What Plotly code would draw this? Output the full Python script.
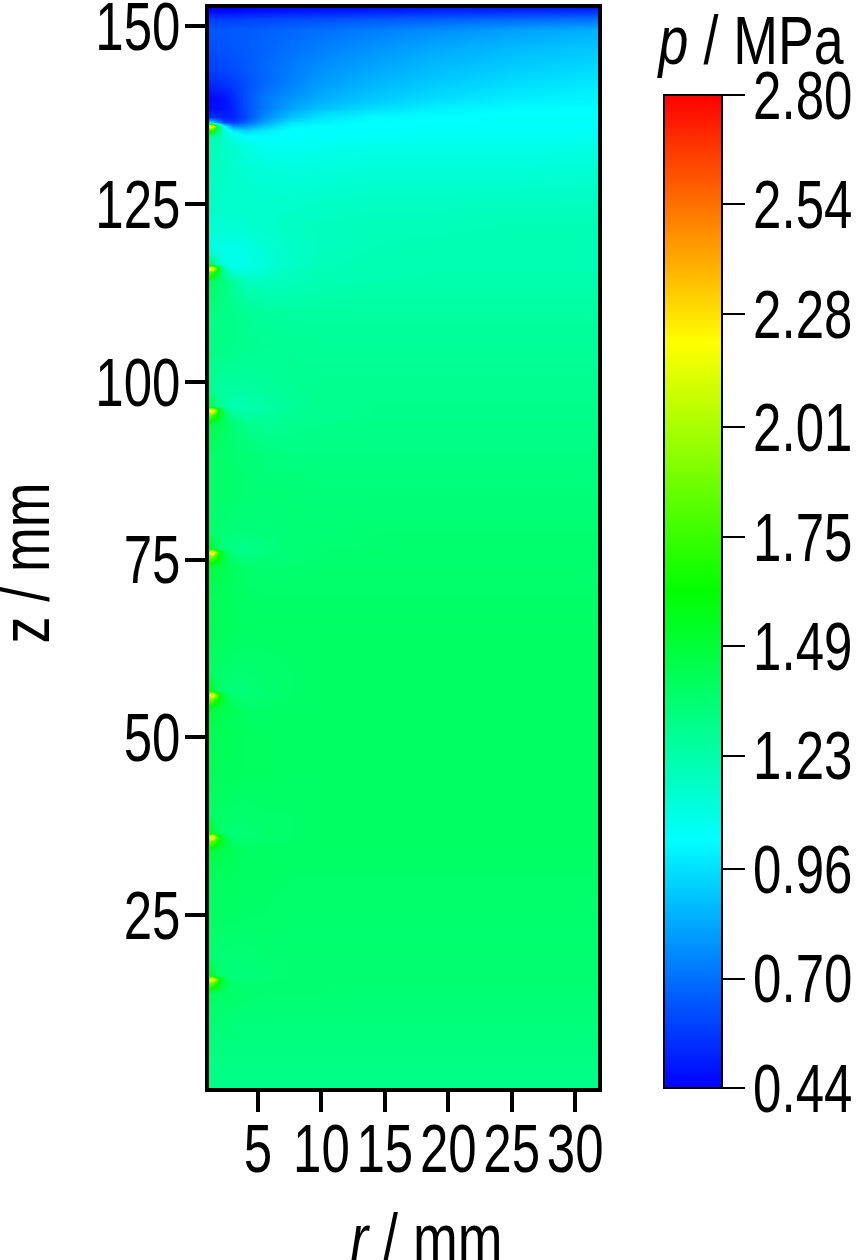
import plotly.graph_objects as go

r_mm = [1.14, 1.4, 1.8, 2.3, 3, 4, 5.5, 7.5, 10, 14, 19, 25, 31.8]
z_mm = [152.6, 152.2, 151, 149.5, 147, 144.5, 142, 140, 138.5, 137.3, 136.6, 136.0, 135.4, 134.5, 133, 130, 125, 122, 118.5,
        116.6, 116.0, 115.4, 114, 110, 105, 99, 96.6, 96.0, 95.4, 94, 90, 85, 79, 76.6, 76.0, 75.4, 74, 70,
        65, 59, 56.6, 56.0, 55.4, 54, 50, 45, 39, 36.6, 36.0, 35.4, 34, 30, 25, 19, 16.6, 16.0, 15.4, 14, 10, 5, 0.65]
p_mpa = [
    [.44, .44, .44, .44, .44, .45, .46, .47, .47, .48, .50, .50, .50],
    [.46, .46, .46, .46, .46, .47, .48, .49, .50, .51, .53, .54, .55],
    [.58, .58, .58, .58, .58, .59, .60, .61, .62, .64, .66, .68, .70],
    [.64, .64, .64, .64, .65, .65, .66, .68, .70, .73, .77, .81, .85],
    [.62, .62, .63, .63, .64, .65, .67, .70, .73, .78, .83, .87, .90],
    [.60, .60, .60, .61, .62, .64, .68, .72, .77, .82, .87, .91, .94],
    [.54, .54, .55, .56, .58, .62, .68, .74, .80, .86, .91, .95, .98],
    [.46, .46, .47, .48, .54, .62, .72, .78, .84, .90, .95, .99, 1.01],
    [.47, .47, .47, .48, .52, .62, .72, .82, .89, .95, 1.00, 1.02, 1.03],
    [.55, .55, .54, .52, .52, .60, .76, .89, .97, 1.02, 1.03, 1.04, 1.04],
    [.95, .95, .78, .60, .58, .66, .82, .96, 1.00, 1.03, 1.03, 1.04, 1.04],
    [2.20, 2.35, 1.55, 1.02, .78, .78, .90, 1.01, 1.03, 1.03, 1.04, 1.04, 1.04],
    [1.70, 1.70, 1.40, 1.12, .97, .92, .98, 1.03, 1.04, 1.04, 1.05, 1.05, 1.05],
    [1.22, 1.22, 1.20, 1.15, 1.10, 1.05, 1.03, 1.04, 1.04, 1.05, 1.06, 1.06, 1.06],
    [1.20, 1.20, 1.19, 1.17, 1.14, 1.10, 1.07, 1.06, 1.07, 1.08, 1.08, 1.08, 1.09],
    [1.18, 1.18, 1.17, 1.16, 1.15, 1.13, 1.12, 1.11, 1.11, 1.12, 1.12, 1.12, 1.13],
    [1.17, 1.17, 1.16, 1.15, 1.15, 1.15, 1.15, 1.15, 1.16, 1.17, 1.17, 1.18, 1.18],
    [1.14, 1.14, 1.13, 1.13, 1.13, 1.14, 1.15, 1.17, 1.18, 1.19, 1.19, 1.20, 1.20],
    [1.11, 1.10, 1.09, 1.08, 1.08, 1.09, 1.12, 1.16, 1.18, 1.20, 1.21, 1.21, 1.21],
    [1.40, 1.35, 1.18, 1.09, 1.07, 1.08, 1.12, 1.16, 1.19, 1.21, 1.21, 1.21, 1.21],
    [2.20, 2.35, 1.70, 1.20, 1.09, 1.09, 1.13, 1.17, 1.19, 1.21, 1.21, 1.21, 1.21],
    [1.80, 1.78, 1.52, 1.27, 1.14, 1.11, 1.14, 1.18, 1.20, 1.21, 1.22, 1.22, 1.22],
    [1.38, 1.38, 1.36, 1.33, 1.27, 1.20, 1.18, 1.19, 1.21, 1.22, 1.22, 1.22, 1.22],
    [1.32, 1.32, 1.32, 1.31, 1.30, 1.28, 1.26, 1.25, 1.25, 1.25, 1.25, 1.25, 1.25],
    [1.31, 1.31, 1.31, 1.31, 1.30, 1.29, 1.28, 1.28, 1.27, 1.27, 1.27, 1.27, 1.27],
    [1.27, 1.27, 1.26, 1.25, 1.25, 1.25, 1.26, 1.28, 1.29, 1.29, 1.29, 1.29, 1.29],
    [1.46, 1.44, 1.30, 1.24, 1.21, 1.21, 1.24, 1.27, 1.29, 1.30, 1.30, 1.30, 1.30],
    [2.15, 2.35, 1.75, 1.34, 1.24, 1.22, 1.24, 1.28, 1.29, 1.30, 1.30, 1.30, 1.30],
    [1.85, 1.82, 1.60, 1.40, 1.28, 1.24, 1.25, 1.28, 1.29, 1.30, 1.30, 1.30, 1.30],
    [1.43, 1.43, 1.42, 1.40, 1.36, 1.31, 1.28, 1.29, 1.30, 1.31, 1.31, 1.31, 1.31],
    [1.38, 1.38, 1.38, 1.37, 1.36, 1.35, 1.33, 1.32, 1.32, 1.32, 1.32, 1.32, 1.32],
    [1.38, 1.38, 1.38, 1.38, 1.37, 1.36, 1.35, 1.35, 1.34, 1.34, 1.34, 1.34, 1.34],
    [1.36, 1.36, 1.36, 1.35, 1.34, 1.34, 1.34, 1.35, 1.35, 1.36, 1.36, 1.36, 1.36],
    [1.52, 1.50, 1.38, 1.33, 1.31, 1.30, 1.32, 1.35, 1.36, 1.36, 1.37, 1.37, 1.37],
    [2.10, 2.35, 1.80, 1.41, 1.33, 1.31, 1.33, 1.35, 1.36, 1.37, 1.37, 1.37, 1.37],
    [1.88, 1.85, 1.65, 1.46, 1.36, 1.33, 1.34, 1.35, 1.36, 1.37, 1.37, 1.37, 1.37],
    [1.46, 1.46, 1.45, 1.43, 1.41, 1.37, 1.36, 1.36, 1.37, 1.37, 1.37, 1.37, 1.37],
    [1.42, 1.42, 1.42, 1.41, 1.40, 1.39, 1.38, 1.38, 1.38, 1.38, 1.38, 1.38, 1.38],
    [1.41, 1.41, 1.41, 1.41, 1.40, 1.39, 1.39, 1.39, 1.39, 1.39, 1.39, 1.39, 1.39],
    [1.39, 1.39, 1.38, 1.37, 1.36, 1.36, 1.37, 1.38, 1.39, 1.39, 1.39, 1.39, 1.39],
    [1.54, 1.52, 1.40, 1.36, 1.34, 1.34, 1.36, 1.38, 1.39, 1.39, 1.39, 1.39, 1.39],
    [2.10, 2.35, 1.80, 1.43, 1.36, 1.35, 1.36, 1.38, 1.39, 1.39, 1.39, 1.39, 1.39],
    [1.90, 1.86, 1.66, 1.47, 1.38, 1.36, 1.37, 1.38, 1.39, 1.39, 1.39, 1.39, 1.39],
    [1.47, 1.47, 1.46, 1.44, 1.42, 1.39, 1.38, 1.39, 1.39, 1.39, 1.39, 1.39, 1.39],
    [1.42, 1.42, 1.42, 1.42, 1.41, 1.40, 1.40, 1.39, 1.39, 1.39, 1.39, 1.39, 1.39],
    [1.41, 1.41, 1.41, 1.41, 1.41, 1.40, 1.40, 1.39, 1.39, 1.39, 1.39, 1.39, 1.39],
    [1.39, 1.39, 1.38, 1.38, 1.37, 1.37, 1.38, 1.38, 1.39, 1.39, 1.39, 1.39, 1.39],
    [1.54, 1.52, 1.40, 1.36, 1.35, 1.35, 1.37, 1.38, 1.39, 1.39, 1.39, 1.39, 1.39],
    [2.10, 2.35, 1.80, 1.43, 1.36, 1.36, 1.37, 1.38, 1.39, 1.39, 1.39, 1.39, 1.39],
    [1.90, 1.86, 1.66, 1.47, 1.38, 1.37, 1.38, 1.38, 1.39, 1.39, 1.39, 1.39, 1.39],
    [1.46, 1.46, 1.45, 1.44, 1.42, 1.39, 1.39, 1.39, 1.39, 1.39, 1.39, 1.39, 1.39],
    [1.40, 1.40, 1.40, 1.40, 1.40, 1.39, 1.39, 1.38, 1.38, 1.38, 1.38, 1.38, 1.38],
    [1.39, 1.39, 1.39, 1.39, 1.39, 1.38, 1.38, 1.37, 1.37, 1.37, 1.37, 1.37, 1.37],
    [1.36, 1.36, 1.36, 1.35, 1.35, 1.35, 1.36, 1.36, 1.36, 1.36, 1.36, 1.36, 1.36],
    [1.52, 1.50, 1.38, 1.35, 1.34, 1.34, 1.35, 1.36, 1.36, 1.36, 1.36, 1.36, 1.36],
    [2.10, 2.30, 1.78, 1.41, 1.35, 1.35, 1.36, 1.36, 1.36, 1.36, 1.36, 1.36, 1.36],
    [1.88, 1.84, 1.64, 1.45, 1.37, 1.36, 1.36, 1.36, 1.36, 1.36, 1.36, 1.36, 1.36],
    [1.40, 1.40, 1.40, 1.39, 1.38, 1.37, 1.36, 1.36, 1.36, 1.35, 1.35, 1.35, 1.35],
    [1.35, 1.35, 1.35, 1.35, 1.34, 1.34, 1.34, 1.34, 1.34, 1.34, 1.34, 1.34, 1.34],
    [1.32, 1.32, 1.32, 1.32, 1.32, 1.32, 1.32, 1.32, 1.32, 1.32, 1.32, 1.32, 1.32],
    [1.30, 1.30, 1.30, 1.30, 1.30, 1.30, 1.30, 1.30, 1.30, 1.30, 1.30, 1.30, 1.30],
]
r_ticks = [5, 10, 15, 20, 25, 30]
z_ticks = [25, 50, 75, 100, 125, 150]
cbar_ticks = [0.44, 0.70, 0.96, 1.23, 1.49, 1.75, 2.01, 2.28, 2.54, 2.80]
jet = [[0, "#0000ff"], [0.25, "#00ffff"], [0.5, "#00ff00"], [0.75, "#ffff00"], [1, "#ff0000"]]

W, H = 856, 1260
FONT = "Liberation Sans, Arial, sans-serif"
FS = 68

fig = go.Figure(go.Heatmap(
    x=r_mm, y=z_mm, z=p_mpa, zmin=0.44, zmax=2.80, zsmooth="best", colorscale=jet,
    hoverinfo="skip",
    colorbar=dict(
        thicknessmode="pixels", thickness=58, lenmode="pixels", len=993,
        x=664 / W, xanchor="left", xpad=0, y=1 - 95 / H, yanchor="top", ypad=0,
        tickmode="array", tickvals=cbar_ticks, ticktext=[f"{v:.2f}" for v in cbar_ticks],
        ticks="outside", ticklen=22, tickwidth=2, tickcolor="black",
        outlinewidth=2, outlinecolor="black", borderwidth=0,
        tickfont=dict(family=FONT, size=FS, color="black"),
    ),
))
axis_common = dict(showgrid=False, zeroline=False, showline=True, linewidth=4, linecolor="black",
                   mirror=True, ticks="outside", tickwidth=4, tickcolor="black", tickangle=0,
                   tickfont=dict(family=FONT, size=FS, color="black"))
fig.update_xaxes(range=[1.14, 31.8], domain=[209 / W, 598 / W], tickmode="array", tickvals=r_ticks,
                 ticklen=20, ticklabelstandoff=-22, **axis_common)
fig.update_yaxes(range=[0.65, 152.6], domain=[1 - 1088 / H, 1 - 8 / H], tickmode="array", tickvals=z_ticks,
                 ticklen=20, ticklabelstandoff=-9, **axis_common)


def label(text, px, py, angle=0):
    return dict(text=text, xref="paper", yref="paper", x=px / W, y=1 - py / H, textangle=angle,
                xanchor="center", yanchor="middle", showarrow=False,
                font=dict(family=FONT, size=FS, color="black"))


fig.update_layout(
    width=W, height=H, autosize=False,
    margin=dict(l=0, r=0, t=0, b=0, autoexpand=False),
    paper_bgcolor="white", plot_bgcolor="white",
    annotations=[label("<i>p</i> / MPa", 750, 40),
                 label("<i>r</i> / mm", 426, 1238),
                 label("z / mm", 25, 563, -90)],
)
# the reference's lettering is a horizontally condensed Arial: squeeze the real text to match
squeeze = """
document.body.style.margin = '0';
document.querySelectorAll('.xtick text, .ytick text, .cbaxis text, .tick text').forEach(function (t) {
  t.setAttribute('lengthAdjust', 'spacingAndGlyphs');
  t.setAttribute('textLength', t.getComputedTextLength() * 0.75);
});
document.querySelectorAll('.cbaxis text').forEach(function (t) {
  t.setAttribute('dx', -5);
});
document.querySelectorAll('.annotation-text').forEach(function (t) {
  t.setAttribute('lengthAdjust', 'spacingAndGlyphs');
  t.setAttribute('textLength', t.getComputedTextLength() * 0.79);
});
"""
fig.write_html("out.html", post_script=squeeze, config={"displayModeBar": False})
